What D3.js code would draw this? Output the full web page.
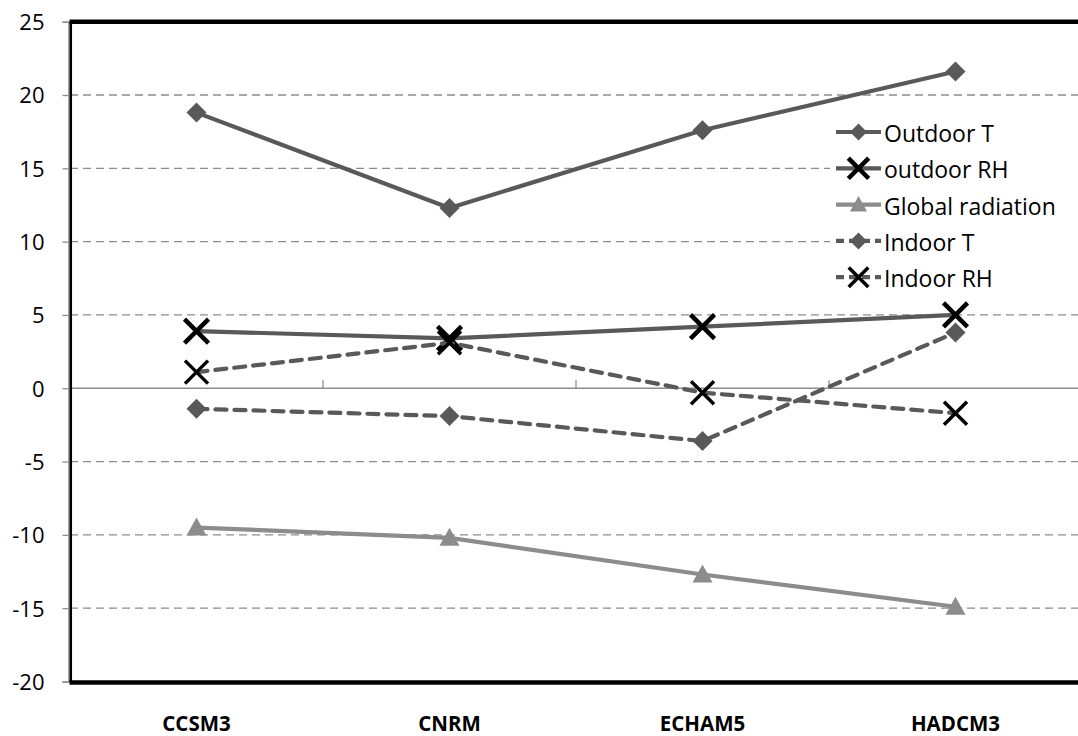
<!DOCTYPE html>
<html><head><meta charset="utf-8">
<script src="https://cdn.jsdelivr.net/npm/d3@7/dist/d3.min.js"></script>
<style>
body{margin:0;background:#fff;}
svg{display:block;font-family:"Open Sans",sans-serif;}
</style></head>
<body><svg id="c" width="1078" height="736"></svg>
<script>
const categories = ["CCSM3","CNRM","ECHAM5","HADCM3"];
const outdoorT = [18.8, 12.3, 17.6, 21.6];
const outdoorRH = [3.9, 3.4, 4.2, 5.0];
const globalRadiation = [-9.5, -10.2, -12.7, -14.9];
const indoorT = [-1.4, -1.9, -3.6, 3.8];
const indoorRH = [1.1, 3.1, -0.3, -1.7];
const yTicks = [-20,-15,-10,-5,0,5,10,15,20,25];
const seriesNames = ["Outdoor T","outdoor RH","Global radiation","Indoor T","Indoor RH"];

const series = [
  {name: seriesNames[0], values: outdoorT, color:"#595959", dash:null, marker:"diamond"},
  {name: seriesNames[1], values: outdoorRH, color:"#595959", dash:null, marker:"xbold"},
  {name: seriesNames[2], values: globalRadiation, color:"#8c8c8c", dash:null, marker:"triangle"},
  {name: seriesNames[3], values: indoorT, color:"#595959", dash:"11,8", marker:"diamond"},
  {name: seriesNames[4], values: indoorRH, color:"#595959", dash:"11,8", marker:"x"}
];

const svg = d3.select("#c");
const L = 70, R = 1082, T = 21.7, B = 681.5;
const x = d3.scaleBand().domain(categories).range([L, R]);
const y = d3.scaleLinear().domain([-20, 25]).range([B, T]);

// gridlines
svg.append("g").selectAll("line").data(yTicks.filter(d => d !== 0 && d !== -20 && d !== 25)).join("line")
  .attr("x1", L).attr("x2", 1078).attr("y1", d => y(d)).attr("y2", d => y(d))
  .attr("stroke", "#8c8c8c").attr("stroke-width", 1.3).attr("stroke-dasharray", "8,5");

// y axis
const yAxis = d3.axisLeft(y).tickValues(yTicks).tickSize(6).tickPadding(18)
  .tickFormat(d => (d < 0 ? "-" + Math.abs(d) : String(d)));
const ga = svg.append("g").attr("transform", `translate(${L - 1.5},0)`).call(yAxis);
ga.attr("font-family", null).attr("font-size", null);
ga.select(".domain").attr("stroke", "#8c8c8c").attr("stroke-width", 1.5);
ga.selectAll(".tick line").attr("stroke", "#8c8c8c").attr("stroke-width", 1.3);
ga.selectAll(".tick text").style("font-size", "22px").attr("fill", "#000").attr("dy", "0.36em");

// zero axis line with category ticks
const gx = svg.append("g").attr("transform", `translate(0,${y(0)})`);
gx.append("line").attr("x1", L).attr("x2", 1078).attr("stroke", "#8c8c8c").attr("stroke-width", 1.5);
gx.selectAll("line.tk").data(categories.slice(1)).join("line").attr("class","tk")
  .attr("x1", d => x(d)).attr("x2", d => x(d)).attr("y1", 0).attr("y2", -8)
  .attr("stroke", "#8c8c8c").attr("stroke-width", 1.3);

// category labels at bottom
svg.append("g").selectAll("text").data(categories).join("text")
  .attr("x", d => x(d) + x.bandwidth()/2).attr("y", 731)
  .attr("text-anchor", "middle").attr("font-weight", "bold").style("font-size", "20.5px").text(d => d);

// border
svg.append("line").attr("x1", L - 0.5).attr("x2", 1078).attr("y1", T).attr("y2", T).attr("stroke","#000").attr("stroke-width",4.5);
svg.append("line").attr("x1", L - 0.5).attr("x2", 1078).attr("y1", B+1).attr("y2", B+1).attr("stroke","#000").attr("stroke-width",4.5);
svg.append("line").attr("x1", L + 0.8).attr("x2", L + 0.8).attr("y1", T).attr("y2", B+1).attr("stroke","#000").attr("stroke-width",2.5);

const line = d3.line().x((d,i) => x(categories[i]) + x.bandwidth()/2).y(d => y(d));

function drawMarker(g, type, cx, cy, color, k) {
  k = k || 1;
  if (type === "diamond") {
    const s = 10*k;
    g.append("path").attr("d", `M${cx},${cy-s}L${cx+s},${cy}L${cx},${cy+s}L${cx-s},${cy}Z`).attr("fill", color);
  } else if (type === "triangle") {
    const s = 10*k;
    g.append("path").attr("d", `M${cx},${cy-s}L${cx+s},${cy+s*0.8}L${cx-s},${cy+s*0.8}Z`).attr("fill", color);
  } else {
    const s = (type === "xbold" ? 12 : 11.5)*k;
    const w = type === "xbold" ? 4.5 : 3.5;
    g.append("path").attr("d", `M${cx-s},${cy-s}L${cx+s},${cy+s}M${cx+s},${cy-s}L${cx-s},${cy+s}`)
      .attr("stroke", "#000").attr("stroke-width", w).attr("fill","none");
  }
}

series.forEach(s => {
  const g = svg.append("g");
  g.append("path").datum(s.values).attr("d", line).attr("fill","none")
    .attr("stroke", s.color).attr("stroke-width", 4.2)
    .attr("stroke-linecap", s.dash ? "round" : "butt")
    .attr("stroke-dasharray", s.dash);
  s.values.forEach((v,i) => drawMarker(g, s.marker, x(categories[i]) + x.bandwidth()/2, y(v), s.color));
});

// legend
const lg = svg.append("g");
lg.append("rect").attr("x", 830).attr("y", 113).attr("width", 248).attr("height", 183).attr("fill", "#fff");
series.forEach((s, i) => {
  const yy = 132 + i*36.3;
  lg.append("line").attr("x1", 836).attr("x2", 881).attr("y1", yy).attr("y2", yy)
    .attr("stroke", s.color).attr("stroke-width", 4.2).attr("stroke-dasharray", s.dash ? "8,5" : null);
  drawMarker(lg, s.marker, 858.5, yy, s.color, 0.85);
  lg.append("text").attr("x", 884).attr("y", yy + 10).style("font-size", "23px").text(s.name);
});
</script></body></html>
